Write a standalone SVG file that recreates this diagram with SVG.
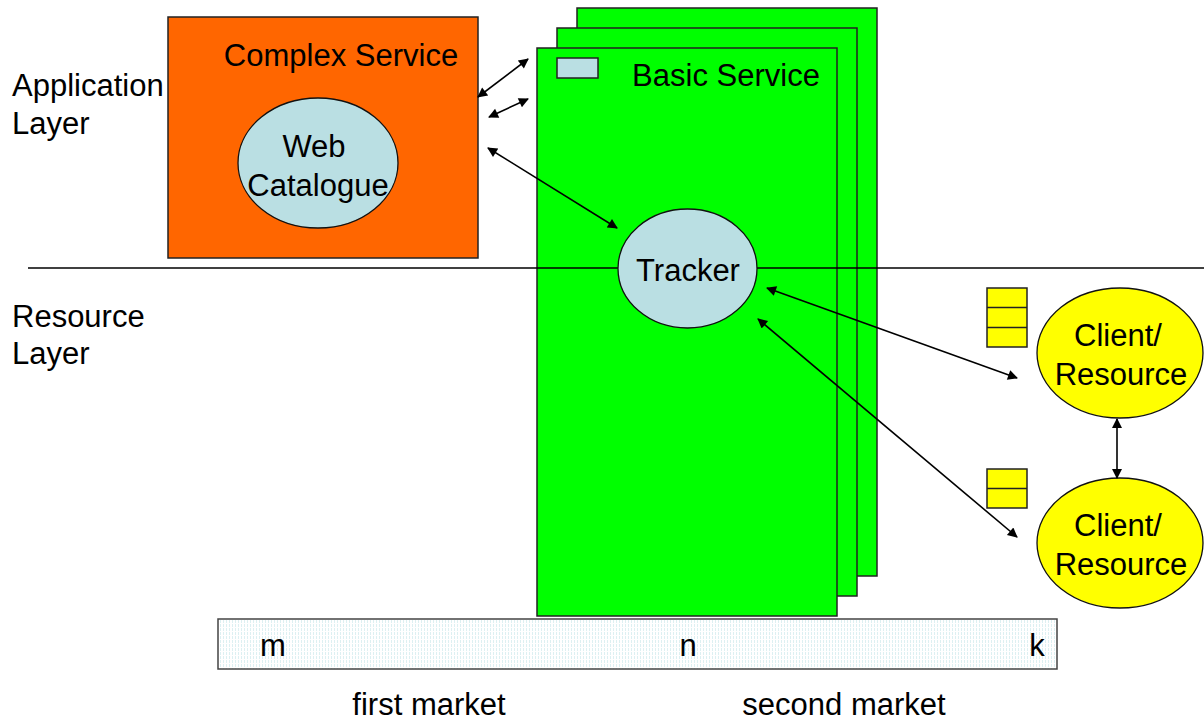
<svg xmlns="http://www.w3.org/2000/svg" width="1204" height="720" viewBox="0 0 1204 720">
<style>
text{font-family:"Liberation Sans",Arial,sans-serif;font-size:31px;fill:#000}
.c{text-anchor:middle}
.box{stroke:#222;stroke-width:1.5}
.g{fill:#00FF00}
.lb{fill:#BADFE3}
.y{fill:#FFFF00}
.con{stroke:#000;stroke-width:1.6;fill:none;marker-start:url(#ahb);marker-end:url(#ahb)}
</style>
<defs>
<marker id="ahb" viewBox="0 0 10 10" refX="9" refY="5" markerWidth="13" markerHeight="10" markerUnits="userSpaceOnUse" orient="auto-start-reverse">
<path d="M0,0 L10,5 L0,10 z" fill="#000"/>
</marker>
<pattern id="stripes" width="3" height="4" patternUnits="userSpaceOnUse">
<rect width="3" height="4" fill="#fff"/>
<rect x="1" y="0" width="1" height="3" fill="#DDF0F2"/>
</pattern>
</defs>

<g id="labels">
<text x="12" y="96">Application</text>
<text x="12" y="134">Layer</text>
<text x="12" y="327">Resource</text>
<text x="12" y="364">Layer</text>
</g>

<g id="complex-service">
<rect x="168" y="17" width="310" height="241" fill="#FF6600" class="box"/>
<text x="341" y="66" class="c">Complex Service</text>
</g>

<g id="web-catalogue">
<ellipse cx="318" cy="163" rx="80" ry="65" class="lb" stroke="#111" stroke-width="1.3"/>
<text x="314" y="157" class="c">Web</text>
<text x="318" y="196" class="c">Catalogue</text>
</g>

<g id="basic-service">
<rect x="577" y="8" width="300" height="568" class="g box"/>
<rect x="557" y="28" width="300" height="568" class="g box"/>
<rect x="537" y="48" width="300" height="568" class="g box"/>
<rect x="557" y="58" width="41" height="20" class="lb box"/>
<text x="726" y="86" class="c">Basic Service</text>
</g>

<g id="layer-divider">
<line x1="28" y1="268" x2="1204" y2="268" stroke="#000" stroke-width="1.3"/>
</g>

<g id="tracker">
<ellipse cx="687.5" cy="268.5" rx="69.5" ry="59.5" class="lb" stroke="#111" stroke-width="1.3"/>
<text x="688" y="281" class="c">Tracker</text>
</g>

<g id="client-resource-1">
<ellipse cx="1120" cy="353" rx="83" ry="65" class="y" stroke="#111" stroke-width="1.3"/>
<text x="1118" y="346" class="c">Client/</text>
<text x="1121" y="385" class="c">Resource</text>
</g>

<g id="client-resource-2">
<ellipse cx="1120" cy="543" rx="83" ry="65" class="y" stroke="#111" stroke-width="1.3"/>
<text x="1118" y="536" class="c">Client/</text>
<text x="1121" y="575" class="c">Resource</text>
</g>

<g id="queue-1">
<rect x="987" y="288" width="40" height="59" class="y box"/>
<line x1="987" y1="307.5" x2="1027" y2="307.5" stroke="#222" stroke-width="1.5"/>
<line x1="987" y1="327.5" x2="1027" y2="327.5" stroke="#222" stroke-width="1.5"/>
</g>

<g id="queue-2">
<rect x="987" y="469" width="40" height="39" class="y box"/>
<line x1="987" y1="488.5" x2="1027" y2="488.5" stroke="#222" stroke-width="1.5"/>
</g>

<g id="market-bar">
<rect x="218" y="619" width="839" height="50" fill="url(#stripes)" stroke="#444" stroke-width="1.5"/>
<text x="273" y="656" class="c">m</text>
<text x="688" y="656" class="c">n</text>
<text x="1037" y="656" class="c">k</text>
</g>

<g id="market-labels">
<text x="429" y="715" class="c">first market</text>
<text x="844" y="715" class="c">second market</text>
</g>

<g id="connectors">
<line x1="478" y1="97" x2="528" y2="59" class="con"/>
<line x1="489" y1="117" x2="528" y2="99" class="con"/>
<line x1="488" y1="148" x2="617" y2="228" class="con"/>
<line x1="767" y1="288" x2="1017" y2="378" class="con"/>
<line x1="758" y1="319" x2="1017" y2="537" class="con"/>
<line x1="1117" y1="419" x2="1117" y2="478" class="con"/>
</g>
</svg>
